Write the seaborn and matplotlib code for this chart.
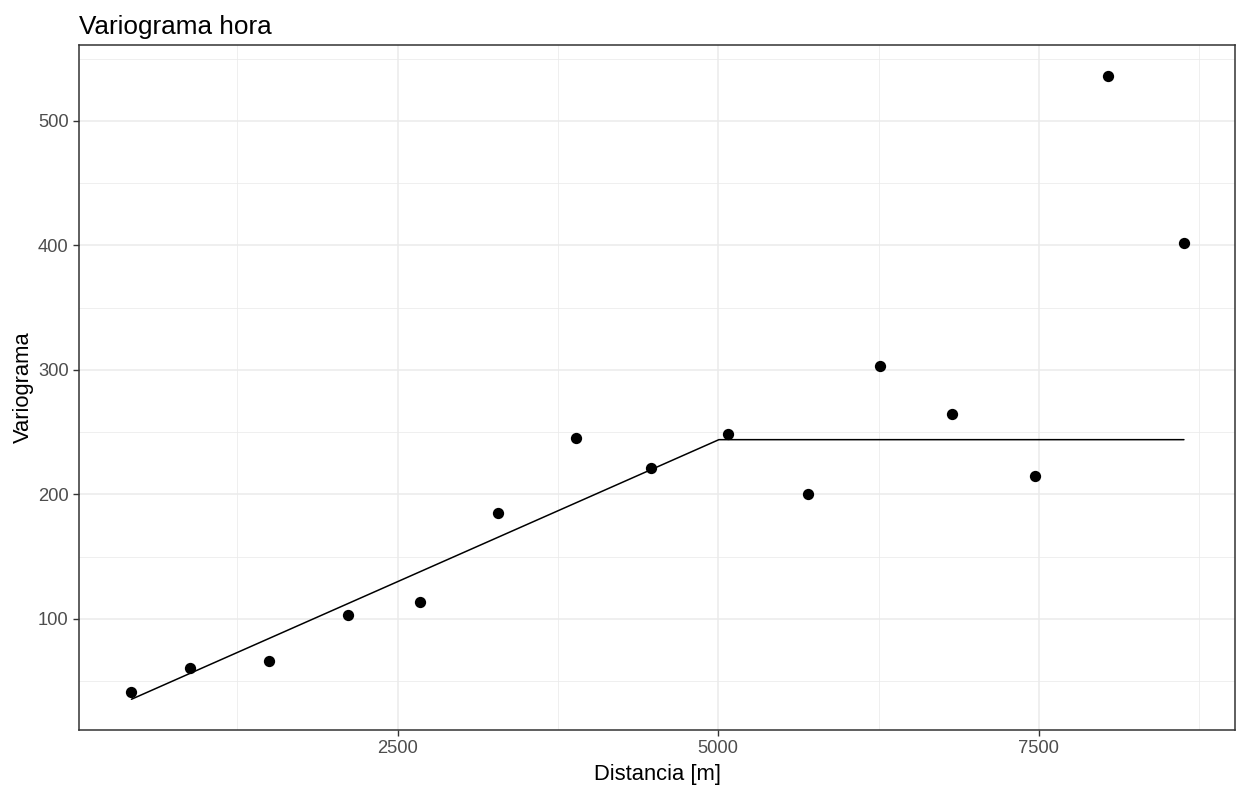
import matplotlib
matplotlib.use("Agg")
import matplotlib.pyplot as plt
import seaborn as sns
import pandas as pd
from matplotlib.ticker import MultipleLocator

# Empirical variogram points
dist = [425, 885, 1494, 2115, 2671, 3279, 3888, 4473, 5074, 5698, 6259, 6821, 7468, 8040, 8631]
gamma = [41.5, 60.2, 66.3, 103.0, 113.5, 185.0, 245.0, 221.0, 248.5, 200.0, 303.5, 264.5, 214.5, 536.0, 402.0]

# Fitted model line
model_dist = [425, 5005, 8631]
model_gamma = [35.5, 244.0, 244.0]

pts = pd.DataFrame({"dist": dist, "gamma": gamma})
mod = pd.DataFrame({"dist": model_dist, "gamma": model_gamma})

sns.set_theme(style="white")
plt.rcParams['font.family'] = ['Liberation Sans', 'DejaVu Sans']

fig = plt.figure(figsize=(12.39, 7.94), dpi=100)
W, H = 1239, 794
ax = fig.add_axes([79 / W, (H - 730) / H, (1235 - 79) / W, (730 - 45) / H])

sns.lineplot(data=mod, x="dist", y="gamma", ax=ax, color="black", linewidth=1.1, zorder=3)
sns.scatterplot(data=pts, x="dist", y="gamma", ax=ax, color="black", s=66, edgecolor="black", linewidth=0, zorder=4)

ax.set_xlim(16, 9029)
ax.set_ylim(10.8, 561)
ax.xaxis.set_major_locator(MultipleLocator(2500))
ax.xaxis.set_minor_locator(MultipleLocator(1250))
ax.yaxis.set_major_locator(MultipleLocator(100))
ax.yaxis.set_minor_locator(MultipleLocator(50))
ax.set_xticks([2500, 5000, 7500])
ax.set_xticklabels(["2500", "5000", "7500"])
ax.set_yticks([100, 200, 300, 400, 500])
ax.set_yticklabels(["100", "200", "300", "400", "500"])

ax.grid(which="major", color="#EBEBEB", linewidth=1.1, zorder=0)
ax.grid(which="minor", color="#EBEBEB", linewidth=0.55, zorder=0)
ax.set_axisbelow(True)

for s in ax.spines.values():
    s.set_color("#333333")
    s.set_linewidth(1.1)

ax.tick_params(axis="both", which="major", length=4.5, width=1.0, color="#333333",
               labelcolor="#4D4D4D", labelsize=13.2, pad=3, bottom=True, left=True)
ax.tick_params(axis="both", which="minor", length=0)

ax.set_xlabel("Distancia [m]", fontsize=15.8, color="black", labelpad=5)
ax.set_ylabel("Variograma", fontsize=15.8, color="black", labelpad=3)
ax.set_title("Variograma hora", fontsize=18.8, color="black", loc="left", pad=8)

fig.savefig("out.png", dpi=100, facecolor="white")
